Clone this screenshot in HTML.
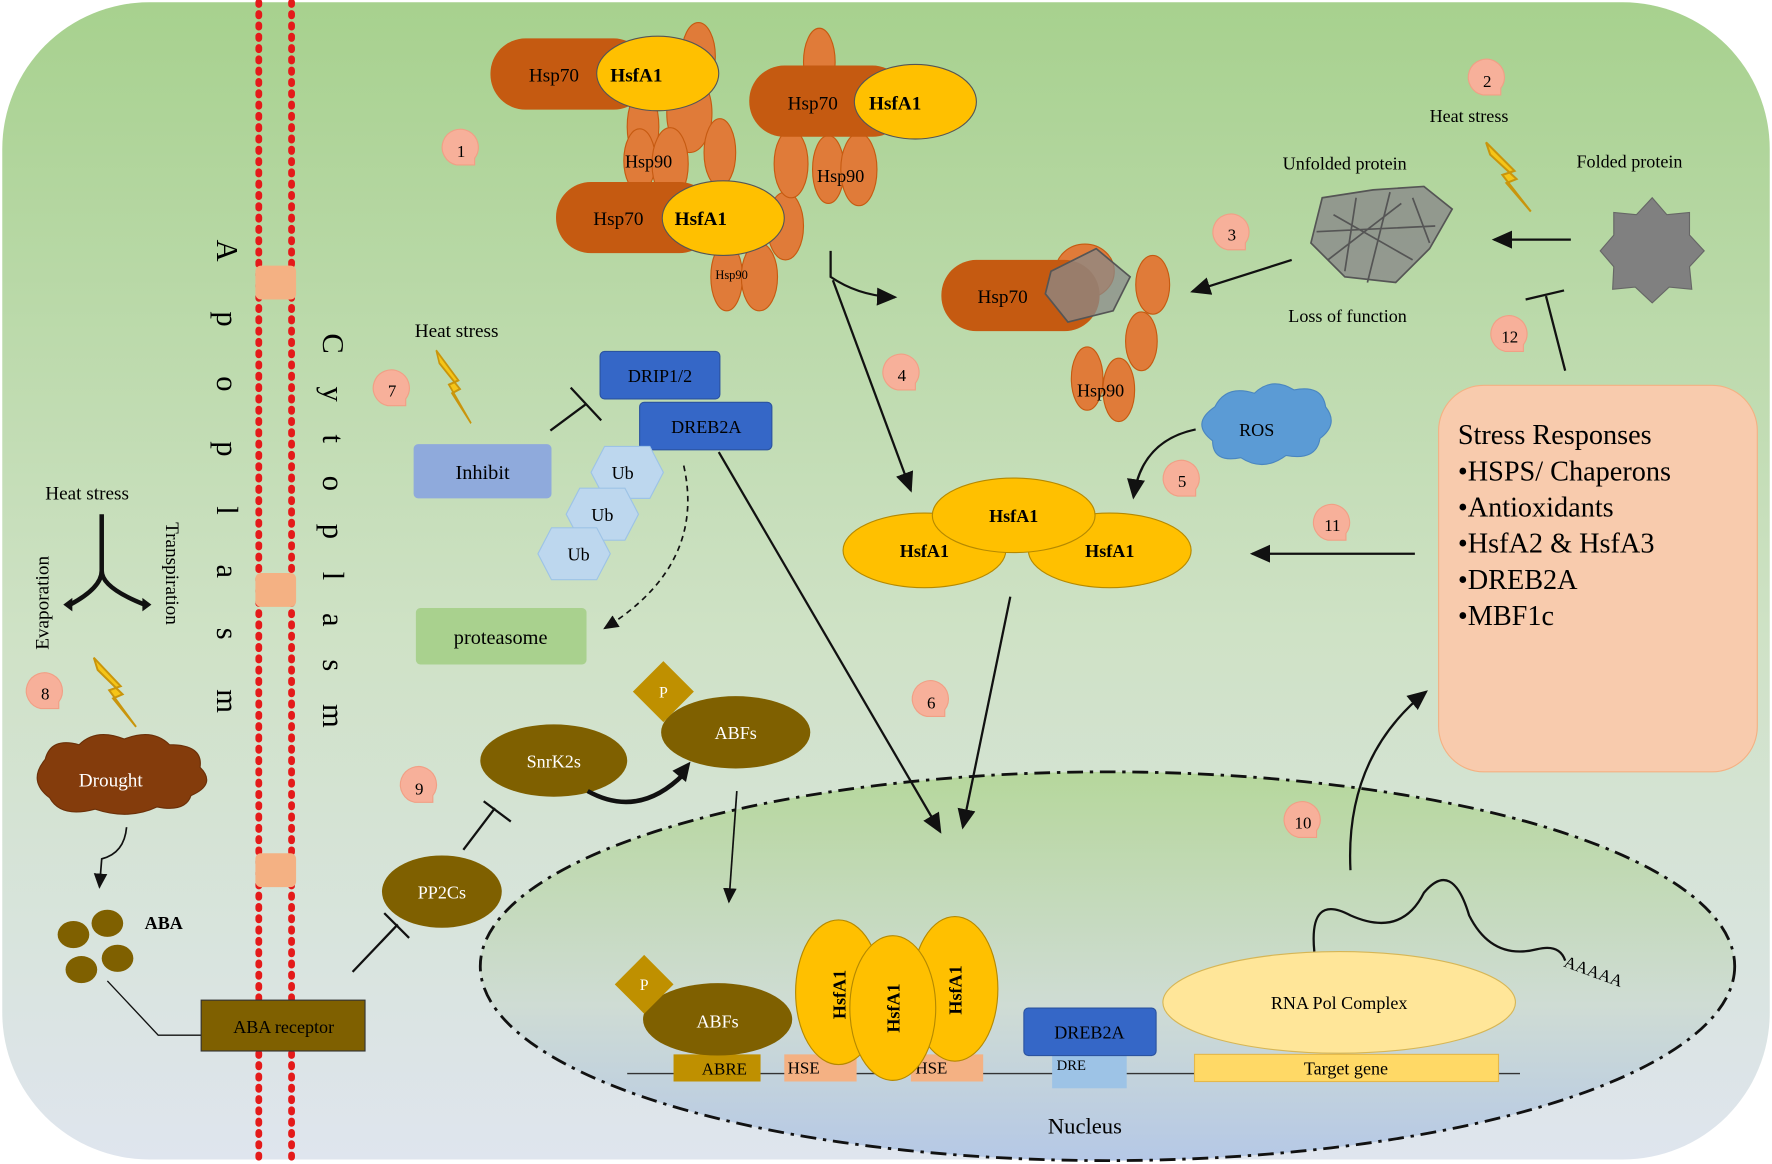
<!DOCTYPE html>
<html><head><meta charset="utf-8"><style>html,body{margin:0;padding:0;background:#fff}svg{display:block}text{font-family:"Liberation Serif",serif}</style></head><body>
<svg width="1772" height="1164" viewBox="0 0 1568 1030" xmlns="http://www.w3.org/2000/svg">
<defs>
<linearGradient id="bg" x1="0" y1="0" x2="0" y2="1"><stop offset="0" stop-color="#a7d18e"/><stop offset="0.55" stop-color="#cfe2c6"/><stop offset="1" stop-color="#dfe5ee"/></linearGradient>
<linearGradient id="nuc" x1="0" y1="0" x2="0" y2="1"><stop offset="0" stop-color="#b6d79c"/><stop offset="0.6" stop-color="#cfdcd4"/><stop offset="1" stop-color="#b5c8e6"/></linearGradient>
<marker id="ar" markerWidth="10" markerHeight="10" refX="8" refY="5" orient="auto"><path d="M0,1 L9,5 L0,9 z" fill="#111"/></marker>
<g id="bub"><path d="M-4,14 A16,16 0 1 1 12,8 L12,14 z" fill="#f7b09a" stroke="#f19f85"/></g>
<g id="bolt"><polygon points="0,0 14,14 8,16 22,34 10,20 15,18 2,6" fill="#f5c518" stroke="#c9950c"/></g>
</defs>
<rect x="2" y="2" width="1564" height="1024" rx="130" fill="url(#bg)"/>
<!-- membrane -->
<line x1="229" y1="2" x2="229" y2="1025" stroke="#e41a1a" stroke-width="6" stroke-dasharray="2,8" stroke-linecap="round"/>
<line x1="258" y1="2" x2="258" y2="1025" stroke="#e41a1a" stroke-width="6" stroke-dasharray="2,8" stroke-linecap="round"/>
<rect x="226" y="235" width="36" height="30" rx="5" fill="#f4b183"/>
<rect x="226" y="507" width="36" height="30" rx="5" fill="#f4b183"/>
<rect x="226" y="755" width="36" height="30" rx="5" fill="#f4b183"/>
<text transform="translate(192,212) rotate(90)" font-size="27" letter-spacing="44">Apoplasm</text>
<text transform="translate(286,295) rotate(90)" font-size="27" letter-spacing="29">Cytoplasm</text>
<!-- nucleus -->
<ellipse cx="980" cy="855" rx="555" ry="172" fill="url(#nuc)" stroke="#111" stroke-width="2.5" stroke-dasharray="14,6,3,6"/>
<text x="960" y="1003" font-size="20" text-anchor="middle">Nucleus</text>
<!-- hsp complexes -->
<g fill="#e07b39" stroke="#c65a11">
<ellipse cx="618" cy="50" rx="15" ry="30"/><ellipse cx="569" cy="112" rx="14" ry="32"/><ellipse cx="610" cy="100" rx="20" ry="35"/>
<ellipse cx="566" cy="142" rx="14" ry="28"/><ellipse cx="593" cy="145" rx="16" ry="32"/><ellipse cx="637" cy="135" rx="14" ry="30"/>
<ellipse cx="695" cy="200" rx="16" ry="30"/><ellipse cx="643" cy="245" rx="14" ry="30"/><ellipse cx="672" cy="245" rx="16" ry="30"/>
<ellipse cx="725" cy="55" rx="14" ry="30"/><ellipse cx="700" cy="145" rx="15" ry="30"/><ellipse cx="733" cy="150" rx="14" ry="30"/><ellipse cx="760" cy="150" rx="16" ry="32"/>
</g>
<g font-size="16"><text x="553" y="148">Hsp90</text><text x="723" y="161">Hsp90</text><text x="633" y="247" font-size="11">Hsp90</text></g>
<g>
<rect x="434" y="34" width="140" height="63" rx="31" fill="#c55a11"/><ellipse cx="582" cy="65" rx="54" ry="33" fill="#ffc000" stroke="#555"/>
<text x="468" y="72" font-size="17">Hsp70</text><text x="540" y="72" font-size="17" font-weight="bold">HsfA1</text>
<rect x="663" y="58" width="140" height="63" rx="31" fill="#c55a11"/><ellipse cx="810" cy="90" rx="54" ry="33" fill="#ffc000" stroke="#555"/>
<text x="697" y="97" font-size="17">Hsp70</text><text x="769" y="97" font-size="17" font-weight="bold">HsfA1</text>
<rect x="492" y="161" width="140" height="63" rx="31" fill="#c55a11"/><ellipse cx="640" cy="193" rx="54" ry="33" fill="#ffc000" stroke="#555"/>
<text x="525" y="199" font-size="17">Hsp70</text><text x="597" y="199" font-size="17" font-weight="bold">HsfA1</text>
</g>
<!-- right hsp70 with unfolded -->
<g fill="#e07b39" stroke="#c65a11"><ellipse cx="1020" cy="252" rx="15" ry="26"/><ellipse cx="1010" cy="302" rx="14" ry="26"/><ellipse cx="962" cy="335" rx="14" ry="28"/><ellipse cx="990" cy="345" rx="14" ry="28"/><ellipse cx="960" cy="240" rx="26" ry="24"/></g>
<rect x="833" y="230" width="140" height="63" rx="31" fill="#c55a11"/>
<text x="865" y="268" font-size="17">Hsp70</text><text x="953" y="351" font-size="16">Hsp90</text>
<g stroke="#555" fill="#8a8a8a" stroke-width="1.5"><path d="M930,240 L970,220 L1000,245 L985,275 L945,285 L925,260 z" fill-opacity="0.75"/><path d="M1170,175 L1215,168 L1260,165 L1285,185 L1265,220 L1235,250 L1190,245 L1160,215 z" fill-opacity="0.8"/><path d="M1180,190 L1250,230 M1200,175 L1190,240 M1230,170 L1210,250 M1165,205 L1270,200 M1175,230 L1240,180 M1250,175 L1265,215" fill="none"/></g>
<polygon points="1462,175 1475,190 1495,188 1495,208 1508,222 1495,236 1497,256 1477,254 1462,268 1447,254 1427,256 1428,236 1416,222 1428,208 1428,188 1448,190" fill="#808080" stroke="#666"/>
<g font-size="16"><text x="1135" y="150">Unfolded protein</text><text x="1395" y="148">Folded protein</text><text x="1140" y="285">Loss of function</text><text x="1265" y="108">Heat stress</text></g>
<use href="#bolt" transform="translate(1315,126) scale(1.8,1.8)"/>
<line x1="1390" y1="212" x2="1322" y2="212" stroke="#111" stroke-width="2" marker-end="url(#ar)"/>
<line x1="1143" y1="230" x2="1055" y2="258" stroke="#111" stroke-width="2" marker-end="url(#ar)"/>
<path d="M1385,328 L1368,262 M1350,265 L1384,257" stroke="#111" stroke-width="2"/>
<!-- bubbles -->
<g font-size="15" text-anchor="middle">
<use href="#bub" x="408" y="132"/><text x="408" y="139">1</text>
<use href="#bub" x="1316" y="70"/><text x="1316" y="77">2</text>
<use href="#bub" x="1090" y="207"/><text x="1090" y="213">3</text>
<use href="#bub" x="798" y="331"/><text x="798" y="337">4</text>
<use href="#bub" x="1046" y="425"/><text x="1046" y="431">5</text>
<use href="#bub" x="824" y="620"/><text x="824" y="627">6</text>
<use href="#bub" x="347" y="345"/><text x="347" y="351">7</text>
<use href="#bub" x="40" y="613"/><text x="40" y="619">8</text>
<use href="#bub" x="371" y="696"/><text x="371" y="703">9</text>
<use href="#bub" x="1153" y="727"/><text x="1153" y="733">10</text>
<use href="#bub" x="1179" y="464"/><text x="1179" y="470">11</text>
<use href="#bub" x="1336" y="297"/><text x="1336" y="303">12</text>
</g>
<!-- stress responses -->
<rect x="1273" y="341" width="282" height="342" rx="40" fill="#f8cbad" stroke="#f4b183"/>
<g font-size="25"><text x="1290" y="393">Stress Responses</text><text x="1290" y="425">•HSPS/ Chaperons</text><text x="1290" y="457">•Antioxidants</text><text x="1290" y="489">•HsfA2 &amp; HsfA3</text><text x="1290" y="521">•DREB2A</text><text x="1290" y="553">•MBF1c</text></g>
<!-- ROS -->
<path d="M1075,360 q10,-20 35,-12 q15,-15 35,-3 q25,-5 28,15 q12,15 -5,28 q-3,20 -30,15 q-20,15 -40,2 q-25,5 -25,-15 q-20,-15 2,-30 z" fill="#5b9bd5" stroke="#4a86c0"/>
<text x="1112" y="386" font-size="16" text-anchor="middle">ROS</text>
<path d="M1058,380 Q1010,390 1003,440" fill="none" stroke="#111" stroke-width="2" marker-end="url(#ar)"/>
<!-- HsfA1 trimer -->
<g fill="#ffc000" stroke="#b58900"><ellipse cx="818" cy="487" rx="72" ry="33"/><ellipse cx="982" cy="487" rx="72" ry="33"/><ellipse cx="897" cy="456" rx="72" ry="33"/></g>
<g font-size="16" font-weight="bold" text-anchor="middle"><text x="818" y="493">HsfA1</text><text x="982" y="493">HsfA1</text><text x="897" y="462">HsfA1</text></g>
<line x1="1252" y1="490" x2="1108" y2="490" stroke="#111" stroke-width="2" marker-end="url(#ar)"/>
<line x1="894" y1="528" x2="852" y2="732" stroke="#111" stroke-width="2" marker-end="url(#ar)"/>
<path d="M735,222 L735,245 Q760,262 792,263" fill="none" stroke="#111" stroke-width="2" marker-end="url(#ar)"/>
<line x1="737" y1="248" x2="806" y2="434" stroke="#111" stroke-width="2" marker-end="url(#ar)"/>
<!-- DREB -->
<text x="367" y="298" font-size="17">Heat stress</text>
<use href="#bolt" transform="translate(386,310) scale(1.4,1.9)"/>
<rect x="366" y="393" width="122" height="48" rx="4" fill="#8faadc"/>
<text x="427" y="424" font-size="18" text-anchor="middle">Inhibit</text>
<path d="M487,381 L518,358 M505,343 L532,372" stroke="#111" stroke-width="2"/>
<rect x="531" y="311" width="106" height="42" rx="4" fill="#3567c7" stroke="#2b53a0"/><text x="584" y="338" font-size="16" text-anchor="middle">DRIP1/2</text>
<rect x="566" y="356" width="117" height="42" rx="4" fill="#3567c7" stroke="#2b53a0"/><text x="625" y="383" font-size="16" text-anchor="middle">DREB2A</text>
<g fill="#bdd7ee" stroke="#9dc3e6">
<polygon points="535,395 575,395 587,418 575,441 535,441 523,418"/>
<polygon points="513,432 553,432 565,455 553,478 513,478 501,455"/>
<polygon points="488,467 528,467 540,490 528,513 488,513 476,490"/>
</g>
<g font-size="16" text-anchor="middle"><text x="551" y="424">Ub</text><text x="533" y="461">Ub</text><text x="512" y="496">Ub</text></g>
<rect x="368" y="538" width="151" height="50" rx="4" fill="#a9d18e"/><text x="443" y="570" font-size="18" text-anchor="middle">proteasome</text>
<path d="M605,412 Q625,500 535,556" fill="none" stroke="#111" stroke-width="1.5" stroke-dasharray="5,4" marker-end="url(#ar)"/>
<line x1="636" y1="400" x2="832" y2="736" stroke="#111" stroke-width="2" marker-end="url(#ar)"/>
<!-- left -->
<text x="40" y="442" font-size="17">Heat stress</text>
<path d="M90,455 L90,505 M62,535 Q90,520 90,505 Q90,520 128,535" fill="none" stroke="#111" stroke-width="4"/>
<path d="M56,535 l8,-6 l0,12z M134,535 l-8,-6 l0,12z" fill="#111"/>
<text transform="translate(43,575) rotate(-90)" font-size="17">Evaporation</text>
<text transform="translate(147,462) rotate(90)" font-size="17">Transpiration</text>
<use href="#bolt" transform="translate(83,582) scale(1.7,1.8)"/>
<path d="M40,672 q5,-20 30,-13 q15,-15 40,-5 q25,-10 40,5 q30,0 27,20 q15,15 -8,25 q-5,15 -30,10 q-25,12 -55,2 q-30,8 -40,-10 q-20,-15 -4,-34 z" fill="#843c0c" stroke="#6a2f08"/>
<text x="98" y="696" font-size="17" fill="#fff" text-anchor="middle">Drought</text>
<path d="M112,732 Q110,755 90,760 L88,785" fill="none" stroke="#111" stroke-width="1.5" marker-end="url(#ar)"/>
<g fill="#7f6000"><ellipse cx="65" cy="827" rx="14" ry="12"/><ellipse cx="95" cy="817" rx="14" ry="12"/><ellipse cx="104" cy="848" rx="14" ry="12"/><ellipse cx="72" cy="858" rx="14" ry="12"/></g>
<text x="128" y="822" font-size="16" font-weight="bold">ABA</text>
<path d="M95,868 L140,916 L178,916" fill="none" stroke="#111" stroke-width="1.2"/>
<rect x="178" y="885" width="145" height="45" fill="#7f6000" stroke="#333"/><text x="251" y="914" font-size="16" text-anchor="middle">ABA receptor</text>
<path d="M312,860 L352,818 M340,808 L362,830" stroke="#111" stroke-width="2"/>
<ellipse cx="391" cy="789" rx="53" ry="32" fill="#7f6000"/><text x="391" y="795" font-size="16" fill="#fff" text-anchor="middle">PP2Cs</text>
<path d="M410,752 L438,715 M428,709 L452,727" stroke="#111" stroke-width="2"/>
<ellipse cx="490" cy="673" rx="65" ry="32" fill="#7f6000"/><text x="490" y="679" font-size="16" fill="#fff" text-anchor="middle">SnrK2s</text>
<path d="M520,700 Q565,725 605,685" fill="none" stroke="#111" stroke-width="4"/><path d="M611,674 l-16,8 l12,10z" fill="#111"/>
<ellipse cx="651" cy="648" rx="66" ry="32" fill="#7f6000"/><text x="651" y="654" font-size="16" fill="#fff" text-anchor="middle">ABFs</text>
<polygon points="587,585 614,612 587,639 560,612" fill="#bf9000"/><text x="587" y="617" font-size="14" fill="#fff" text-anchor="middle">P</text>
<line x1="652" y1="700" x2="645" y2="798" stroke="#111" stroke-width="1.5" marker-end="url(#ar)"/>
<!-- nucleus contents -->
<line x1="555" y1="950" x2="1345" y2="950" stroke="#333" stroke-width="1.2"/>
<rect x="596" y="933" width="77" height="24" fill="#bf9000"/><text x="621" y="951" font-size="15">ABRE</text>
<rect x="694" y="933" width="64" height="24" fill="#f4b183"/><text x="697" y="950" font-size="15">HSE</text>
<rect x="806" y="933" width="64" height="24" fill="#f4b183"/><text x="810" y="950" font-size="15">HSE</text>
<rect x="931" y="933" width="66" height="30" fill="#9dc3e6"/><text x="935" y="947" font-size="13">DRE</text>
<rect x="1057" y="933" width="269" height="24" fill="#ffd966" stroke="#e5b84a"/><text x="1191" y="951" font-size="16" text-anchor="middle">Target gene</text>
<ellipse cx="635" cy="902" rx="66" ry="32" fill="#7f6000"/><text x="635" y="909" font-size="16" fill="#fff" text-anchor="middle">ABFs</text>
<polygon points="570,845 596,871 570,897 544,871" fill="#bf9000"/><text x="570" y="876" font-size="14" fill="#fff" text-anchor="middle">P</text>
<g fill="#ffc000" stroke="#b58900"><ellipse cx="742" cy="878" rx="38" ry="64"/><ellipse cx="845" cy="875" rx="38" ry="64"/><ellipse cx="790" cy="892" rx="38" ry="64"/></g>
<g font-size="16" font-weight="bold" text-anchor="middle"><text transform="translate(748,880) rotate(-90)">HsfA1</text><text transform="translate(796,892) rotate(-90)">HsfA1</text><text transform="translate(851,876) rotate(-90)">HsfA1</text></g>
<rect x="906" y="892" width="117" height="42" rx="4" fill="#3567c7" stroke="#2b53a0"/><text x="964" y="919" font-size="16" text-anchor="middle">DREB2A</text>
<ellipse cx="1185" cy="887" rx="156" ry="45" fill="#ffe699" stroke="#d6b656"/><text x="1185" y="893" font-size="16" text-anchor="middle">RNA Pol Complex</text>
<path d="M1163,842 Q1158,790 1195,810 Q1240,830 1260,790 Q1285,760 1300,810 Q1320,850 1360,840 Q1380,835 1385,850" fill="none" stroke="#111" stroke-width="2"/>
<text transform="translate(1383,855) rotate(20)" font-size="15">AAAAA</text>
<path d="M1195,770 Q1190,670 1262,612" fill="none" stroke="#111" stroke-width="2" marker-end="url(#ar)"/>
</svg>
</body></html>
